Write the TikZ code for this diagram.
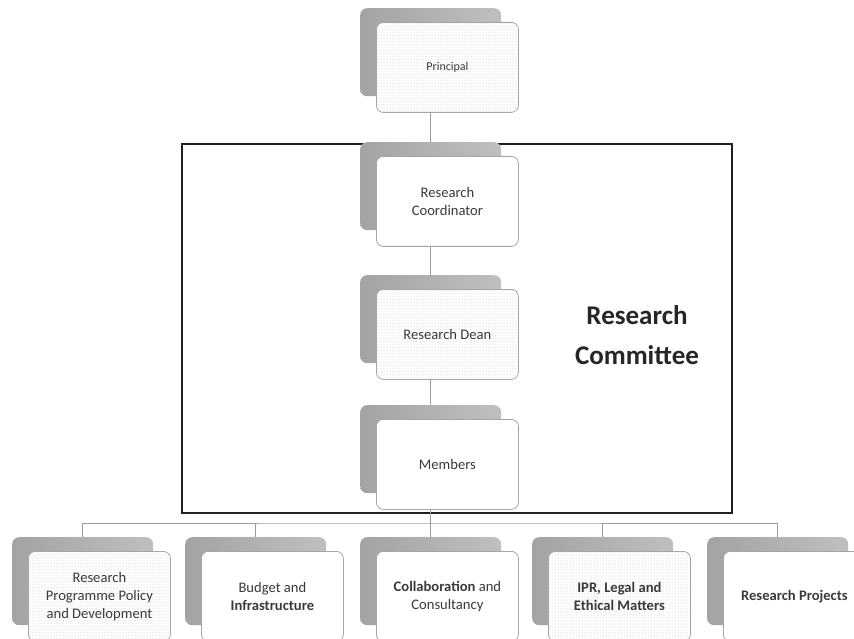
\documentclass[tikz,border=0pt]{standalone}
\usepackage{fontspec}
\setmainfont{Carlito}
\usetikzlibrary{positioning, patterns, calc}
\definecolor{boxText}{HTML}{3A3A3A}
\definecolor{linkGray}{HTML}{9A9A9A}
\definecolor{frameBlack}{HTML}{202020}
\tikzset{
    back/.style={rectangle, rounded corners=7pt, minimum width=141pt, minimum height=88pt,
        left color=gray!72, right color=gray!50, draw=none, anchor=north west},
    front/.style={rectangle, rounded corners=7pt, minimum width=142pt, minimum height=90pt,
        draw=gray!70, line width=0.8pt, fill=white, text=boxText, align=center,
        font=\fontsize{14.6}{18}\selectfont, anchor=north west},
    dotfill/.style={preaction={fill=white}, pattern=dots, pattern color=gray!55},
    link/.style={draw=linkGray, line width=0.9pt}
}
\newcommand{\DrawStack}[5]{
    \node[back] (#1Back) at (#2,#3) {};
    \node[front, #4] (#1) at ([shift={(16pt,-14pt)}]#1Back.north west) {#5};
}
\begin{document}
\begin{tikzpicture}[x=1pt, y=-1pt]
    \useasboundingbox (0,0) rectangle (854,639);
    \clip (0,0) rectangle (854,639);

    % Committee frame
    \draw[frameBlack, line width=1.3pt] (182,144) rectangle (732,513);
    \node[font=\bfseries\fontsize{27}{40}\selectfont, align=center, text=black!85] (committee) at (637,335) {Research\\Committee};

    % Main column
    \DrawStack{principal}{360}{8}{dotfill, font=\fontsize{12}{15}\selectfont}{Principal}
    \DrawStack{coordinator}{360}{142}{}{Research\\Coordinator}
    \DrawStack{dean}{360}{275}{dotfill}{Research Dean}
    \DrawStack{members}{360}{405}{}{Members}

    % Bottom row
    \DrawStack{policy}{12}{537}{dotfill}{Research\\Programme Policy\\and Development}
    \DrawStack{budget}{185}{537}{}{Budget and\\\textbf{Infrastructure}}
    \DrawStack{collab}{360}{537}{}{\textbf{Collaboration} and\\Consultancy}
    \DrawStack{ethics}{532}{537}{dotfill}{\textbf{IPR, Legal and}\\\textbf{Ethical Matters}}
    \DrawStack{projects}{707}{537}{}{\textbf{Research Projects}}

    % Connectors
    \coordinate (bus) at (430,523);
    \draw[link] (principal.south -| principalBack.north) -- (coordinatorBack.north);
    \draw[link] (coordinator.south -| coordinatorBack.north) -- (deanBack.north);
    \draw[link] (dean.south -| deanBack.north) -- (membersBack.north);
    \draw[link] (members.south -| membersBack.north) -- (collabBack.north);
    \draw[link] (policyBack.north) |- (bus) -| (projectsBack.north);
    \foreach \stack in {budget, ethics}
        \draw[link] (\stack Back.north) -- (\stack Back.north |- bus);
\end{tikzpicture}
\end{document}
